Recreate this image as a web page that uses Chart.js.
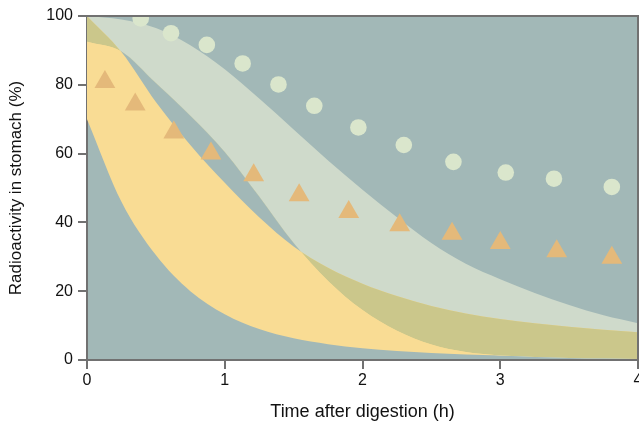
<!DOCTYPE html>
<html>
<head>
<meta charset="utf-8">
<script src="https://cdn.jsdelivr.net/npm/chart.js@4.4.0/dist/chart.umd.min.js"></script>
<style>
  body { margin: 0; background: #ffffff; }
  #wrap { width: 639px; height: 425px; }
</style>
</head>
<body>
<div id="wrap"><canvas id="stomachChart" width="639" height="425"></canvas></div>
<script>
// ================= DATA =================

// sample times (h) for the band edges
const bandTimes = [0, 0.25, 0.5, 0.75, 1, 1.25, 1.5, 1.75, 2, 2.25, 2.5, 2.75, 3, 3.25, 3.5, 3.75, 4];

// light green band (upper / lower edge, %)
const greenUpper = [100, 99, 96.5, 91.5, 84.5, 76, 67, 58, 49.5, 41.5, 34, 28, 23.5, 19.5, 16, 13, 10.7];
const greenLower = [92.5, 89.7, 80.5, 71, 60.5, 47.5, 34, 23, 14.5, 8.5, 4.5, 2.3, 1.3, 0.9, 0.6, 0.4, 0.3];

// yellow band (upper / lower edge, %)
const yellowUpper = [100, 89.5, 75, 62.5, 51.5, 41.5, 33, 26.8, 22.2, 18.6, 15.7, 13.5, 11.9, 10.7, 9.7, 8.8, 8.1];
const yellowLower = [70, 46, 30.5, 20, 13.3, 9, 6.3, 4.6, 3.4, 2.6, 2, 1.6, 1.3, 1.1, 0.9, 0.7, 0.5];

// circles
const circleTimes = [0.39, 0.61, 0.87, 1.13, 1.39, 1.65, 1.97, 2.30, 2.66, 3.04, 3.39, 3.81];
const circleValues = [99.3, 95, 91.6, 86.2, 80.1, 73.9, 67.6, 62.5, 57.6, 54.5, 52.7, 50.3];

// triangles
const triangleTimes = [0.13, 0.35, 0.63, 0.90, 1.21, 1.54, 1.90, 2.27, 2.65, 3.00, 3.41, 3.81];
const triangleValues = [80.8, 74.3, 66.1, 60.0, 53.7, 47.9, 43.0, 39.2, 36.7, 34.0, 31.6, 29.7];

// axis ticks
const xTicks = [0, 1, 2, 3, 4];
const yTicks = [0, 20, 40, 60, 80, 100];

// ================= COLOURS =================
const plotBg = "#a2b8b7";
const greenFill = "#cfdacb";
const yellowFill = "#f9dc94";
const oliveFill = "#cbc78b";
const circleColor = "#dae6cc";
const triangleColor = "#e4b97a";
const axisGray = "#717171";
const textColor = "#111111";

function pts(xs, ys) {
    return xs.map((x, i) => ({ x: x, y: ys[i] }));
}

const edge = {
    showLine: true,
    borderWidth: 0,
    borderColor: "transparent",
    pointRadius: 0,
    pointHoverRadius: 0,
    cubicInterpolationMode: "monotone"
};

// ================= PLUGIN: plot background + frame =================
const framePlugin = {
    id: "frame",
    beforeDraw(chart) {
        const a = chart.chartArea;
        const ctx = chart.ctx;
        ctx.save();
        ctx.fillStyle = plotBg;
        ctx.fillRect(a.left, a.top, a.right - a.left, a.bottom - a.top);
        ctx.restore();
    },
    afterDraw(chart) {
        const a = chart.chartArea;
        const ctx = chart.ctx;
        ctx.save();
        ctx.strokeStyle = axisGray;
        ctx.lineWidth = 2;
        ctx.beginPath();
        ctx.moveTo(a.left, a.top);
        ctx.lineTo(a.right, a.top);
        ctx.lineTo(a.right, a.bottom);
        ctx.stroke();
        ctx.restore();
    }
};

// ================= CHART =================
const ctx = document.getElementById("stomachChart").getContext("2d");

new Chart(ctx, {
    type: "scatter",
    data: {
        datasets: [
            // 0: green lower edge
            Object.assign({}, edge, { data: pts(bandTimes, greenLower), fill: false, order: 10 }),
            // 1: green upper edge -> fill down to green lower
            Object.assign({}, edge, { data: pts(bandTimes, greenUpper), fill: 0, backgroundColor: greenFill, order: 9 }),
            // 2: yellow lower edge
            Object.assign({}, edge, { data: pts(bandTimes, yellowLower), fill: false, order: 10 }),
            // 3: yellow upper edge -> fill down to yellow lower
            Object.assign({}, edge, { data: pts(bandTimes, yellowUpper), fill: 2, backgroundColor: yellowFill, order: 8 }),
            // 4: overlap of both bands
            Object.assign({}, edge, {
                data: pts(bandTimes, yellowUpper),
                fill: { target: 0, above: oliveFill, below: "transparent" },
                order: 7
            }),
            {
                data: pts(triangleTimes, triangleValues),
                pointStyle: "triangle",
                pointRadius: 12,
                backgroundColor: triangleColor,
                borderWidth: 0,
                order: 2
            },
            {
                data: pts(circleTimes, circleValues),
                pointStyle: "circle",
                pointRadius: 8.3,
                backgroundColor: circleColor,
                borderWidth: 0,
                clip: 0,
                order: 1
            }
        ]
    },
    options: {
        responsive: false,
        animation: false,
        layout: { autoPadding: false, padding: { top: 16, right: 1, left: 0, bottom: 0 } },
        plugins: {
            legend: { display: false },
            tooltip: { enabled: false }
        },
        scales: {
            x: {
                type: "linear",
                min: 0,
                max: 4,
                afterBuildTicks: (s) => { s.ticks = xTicks.map(v => ({ value: v })); },
                afterFit: (s) => { s.height = 65; s.paddingRight = 0; s.paddingLeft = 0; },
                border: { color: axisGray, width: 2 },
                grid: { drawOnChartArea: false, drawTicks: true, tickLength: 9, color: axisGray, lineWidth: 2 },
                ticks: { color: textColor, font: { family: "Liberation Sans", size: 16 }, padding: 2, maxRotation: 0 },
                title: {
                    display: true,
                    text: "Time after digestion (h)",
                    color: textColor,
                    font: { family: "Liberation Sans", size: 18 },
                    padding: { top: 0, bottom: 2 }
                }
            },
            y: {
                min: 0,
                max: 100,
                afterBuildTicks: (s) => { s.ticks = yTicks.map(v => ({ value: v })); },
                afterFit: (s) => { s.width = 87; },
                border: { color: axisGray, width: 2 },
                grid: { drawOnChartArea: false, drawTicks: true, tickLength: 9, color: axisGray, lineWidth: 2 },
                ticks: { color: textColor, font: { family: "Liberation Sans", size: 16 }, padding: 5 },
                title: {
                    display: true,
                    text: "Radioactivity in stomach (%)",
                    color: textColor,
                    font: { family: "Liberation Sans", size: 17 },
                    padding: { top: 6, bottom: 0 }
                }
            }
        }
    },
    plugins: [framePlugin]
});
</script>
</body>
</html>
